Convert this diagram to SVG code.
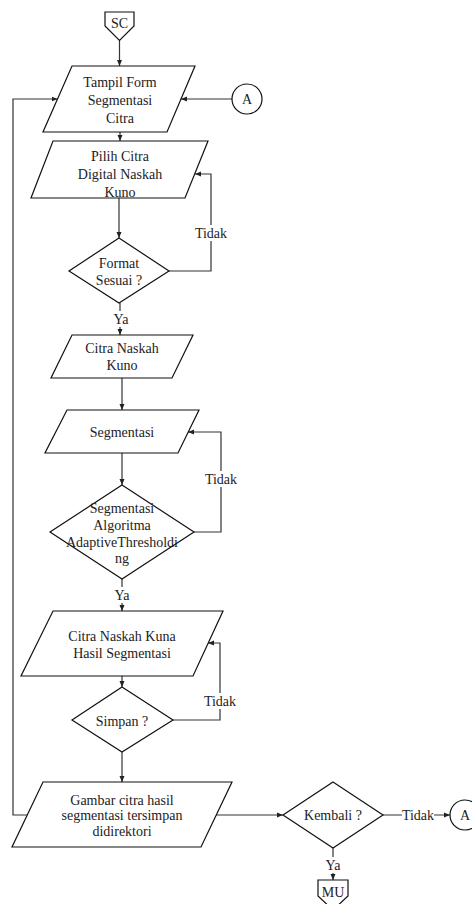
<svg xmlns="http://www.w3.org/2000/svg" width="472" height="904" viewBox="0 0 472 904">
  <style>
    .shape { fill: #ffffff; stroke: #111111; stroke-width: 1.2; }
    .edge { fill: none; stroke: #333333; stroke-width: 1.2; }
    text { font-family: "Liberation Serif", "Times New Roman", serif; font-size: 14px; fill: #222222; text-anchor: middle; }
    .lbl-bg { fill: #ffffff; }
  </style>
  <defs>
    <marker id="arrow" markerWidth="6" markerHeight="6" refX="6" refY="3" orient="auto" markerUnits="userSpaceOnUse">
      <path d="M0,0.5 L6,3 L0,5.5 Z" fill="#222222"/>
    </marker>
  </defs>

  <rect width="472" height="904" fill="#ffffff"/>

  <!-- connectors -->
  <g id="connectors">
    <path class="edge" d="M119.5 40 V66" marker-end="url(#arrow)"/>
    <path class="edge" d="M232 99 H181" marker-end="url(#arrow)"/>
    <path class="edge" d="M28 815 H13 V99 H57.5" marker-end="url(#arrow)"/>
    <path class="edge" d="M120 132 V141" marker-end="url(#arrow)"/>
    <path class="edge" d="M119 198 V238" marker-end="url(#arrow)"/>
    <path class="edge" d="M169 271 H211 V174 H195" marker-end="url(#arrow)"/>
    <path class="edge" d="M120 303 V335" marker-end="url(#arrow)"/>
    <path class="edge" d="M122 378 V410" marker-end="url(#arrow)"/>
    <path class="edge" d="M122 453 V485" marker-end="url(#arrow)"/>
    <path class="edge" d="M194 532 H221 V432 H188" marker-end="url(#arrow)"/>
    <path class="edge" d="M122 579 V611" marker-end="url(#arrow)"/>
    <path class="edge" d="M122 676 V687" marker-end="url(#arrow)"/>
    <path class="edge" d="M173 720 H220 V643 H208" marker-end="url(#arrow)"/>
    <path class="edge" d="M122 752 V782" marker-end="url(#arrow)"/>
    <path class="edge" d="M216 815 H283" marker-end="url(#arrow)"/>
    <path class="edge" d="M383 815 H450" marker-end="url(#arrow)"/>
    <path class="edge" d="M333 848 V880" marker-end="url(#arrow)"/>

    <!-- edge labels -->
    <rect class="lbl-bg" x="195" y="225" width="32" height="16"/>
    <text x="211" y="238">Tidak</text>
    <rect class="lbl-bg" x="111" y="311" width="20" height="16"/>
    <text x="121" y="324">Ya</text>
    <rect class="lbl-bg" x="205" y="471" width="32" height="16"/>
    <text x="221" y="484">Tidak</text>
    <rect class="lbl-bg" x="112" y="587" width="20" height="16"/>
    <text x="122" y="600">Ya</text>
    <rect class="lbl-bg" x="204" y="693" width="32" height="16"/>
    <text x="220" y="706">Tidak</text>
    <rect class="lbl-bg" x="402" y="807" width="32" height="16"/>
    <text x="418" y="820">Tidak</text>
    <rect class="lbl-bg" x="323" y="857" width="20" height="16"/>
    <text x="333" y="870">Ya</text>
  </g>

  <!-- start off-page connector -->
  <g id="sc">
    <path class="shape" d="M105 12 H134 V26 L119.5 40.5 L105 26 Z"/>
    <text x="119.5" y="28">SC</text>
  </g>

  <g id="tampil-form">
    <path class="shape" d="M72 66 H195 L167 132 H43 Z"/>
    <text x="120" y="87">Tampil Form</text>
    <text x="120" y="105">Segmentasi</text>
    <text x="120" y="123">Citra</text>
  </g>

  <g id="connector-a-top">
    <circle class="shape" cx="247" cy="99" r="15"/>
    <text x="247" y="104">A</text>
  </g>

  <g id="pilih-citra">
    <path class="shape" d="M53 141 H208 L185 198 H31 Z"/>
    <text x="120" y="161">Pilih Citra</text>
    <text x="120" y="179">Digital Naskah</text>
    <text x="120" y="197">Kuno</text>
  </g>

  <g id="format-sesuai">
    <path class="shape" d="M119 238 L169 271 L119 303 L69 271 Z"/>
    <text x="119" y="268">Format</text>
    <text x="119" y="285">Sesuai ?</text>
  </g>

  <g id="citra-naskah">
    <path class="shape" d="M72 335 H193 L172 378 H51 Z"/>
    <text x="122" y="353">Citra Naskah</text>
    <text x="122" y="370">Kuno</text>
  </g>

  <g id="segmentasi">
    <path class="shape" d="M67 410 H199 L178 453 H45 Z"/>
    <text x="122" y="437">Segmentasi</text>
  </g>

  <g id="algoritma">
    <path class="shape" d="M122 485 L194 532 L122 579 L50 532 Z"/>
    <text x="122" y="513">Segmentasi</text>
    <text x="122" y="530">Algoritma</text>
    <text x="122" y="547">AdaptiveThresholdi</text>
    <text x="122" y="563">ng</text>
  </g>

  <g id="hasil-segmentasi">
    <path class="shape" d="M53 611 H223 L193 676 H21 Z"/>
    <text x="122" y="641">Citra Naskah Kuna</text>
    <text x="122" y="658">Hasil Segmentasi</text>
  </g>

  <g id="simpan">
    <path class="shape" d="M122 687 L173 720 L122 752 L72 720 Z"/>
    <text x="122" y="726">Simpan ?</text>
  </g>

  <g id="gambar-tersimpan">
    <path class="shape" d="M43 782 H232 L201 847 H12 Z"/>
    <text x="122" y="805">Gambar citra hasil</text>
    <text x="122" y="820">segmentasi tersimpan</text>
    <text x="122" y="836">didirektori</text>
  </g>

  <g id="kembali">
    <path class="shape" d="M333 782 L383 815 L333 848 L283 815 Z"/>
    <text x="333" y="820">Kembali ?</text>
  </g>

  <g id="connector-a-bottom">
    <circle class="shape" cx="465" cy="815" r="15"/>
    <text x="465" y="820">A</text>
  </g>

  <!-- end off-page connector -->
  <g id="mu">
    <path class="shape" d="M318 880 H348 V896 L333 910 L318 896 Z"/>
    <text x="333" y="897">MU</text>
  </g>
</svg>
